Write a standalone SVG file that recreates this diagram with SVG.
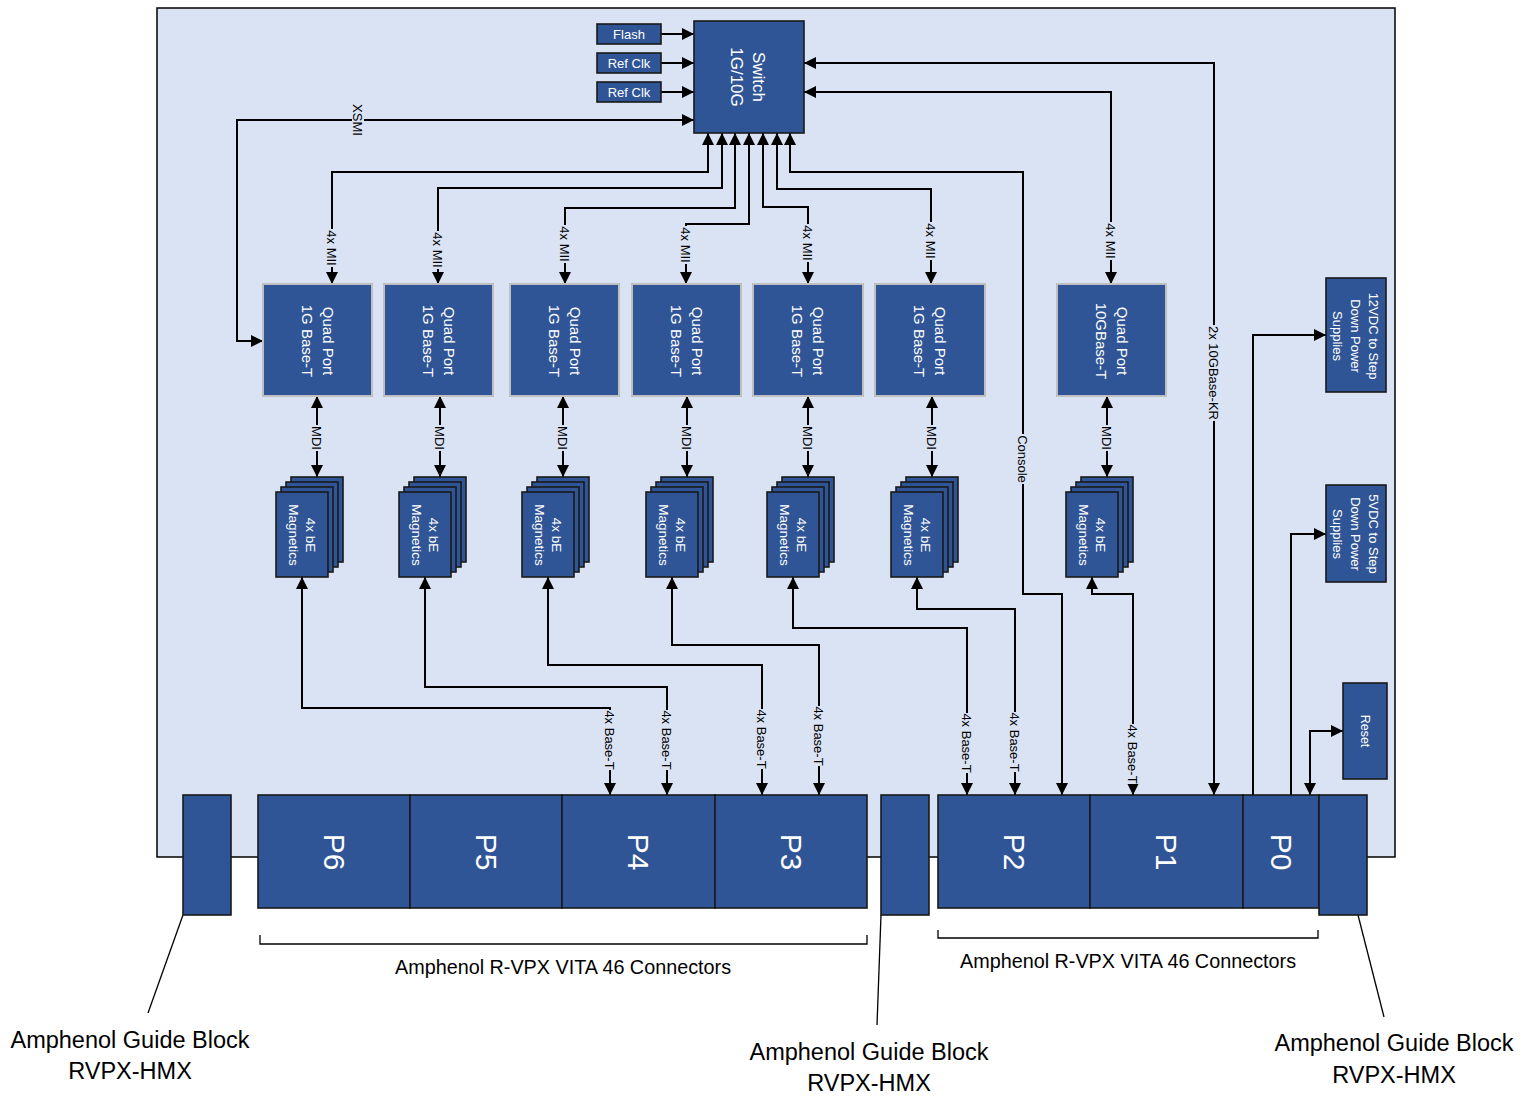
<svg xmlns="http://www.w3.org/2000/svg" width="1535" height="1096" viewBox="0 0 1535 1096">
<style>
text{font-family:"Liberation Sans",Arial,sans-serif}
.blk{fill:#2f5597;stroke:#1a1a1a;stroke-width:1.6}
.qp{fill:#2f5597;stroke:#bfbfbf;stroke-width:2}
.wt{fill:#fff}
.ln{fill:none;stroke:#000;stroke-width:2}
.ln2{fill:none;stroke:#000;stroke-width:1.3}
.lbl{font-size:13px;fill:#000}
.bg{fill:#dae3f3}
.p{font-size:30px;fill:#fff}
.big{font-size:23.5px;fill:#000}
.br{font-size:19.8px;fill:#000}
</style>
<defs>
<marker id="ah" viewBox="0 0 10 10" refX="10" refY="5" markerWidth="12" markerHeight="12" markerUnits="userSpaceOnUse" orient="auto-start-reverse"><path d="M0,0 L10,5 L0,10 z" fill="#000"/></marker>
</defs>

<g id="board"><rect x="157" y="8" width="1238" height="849" fill="#dae3f3" stroke="#000" stroke-width="1.5"/></g>

<g id="connectors">
<path class="ln" d="M661,34 H694" marker-end="url(#ah)"/>
<path class="ln" d="M661,63 H694" marker-end="url(#ah)"/>
<path class="ln" d="M661,92 H694" marker-end="url(#ah)"/>
<path class="ln" d="M263,341 H237 V120 H694" marker-start="url(#ah)" marker-end="url(#ah)"/>
<path class="ln" d="M708,133 V172 H332 V284" marker-start="url(#ah)" marker-end="url(#ah)"/>
<path class="ln" d="M722,133 V188 H438 V284" marker-start="url(#ah)" marker-end="url(#ah)"/>
<path class="ln" d="M735,133 V208 H565 V284" marker-start="url(#ah)" marker-end="url(#ah)"/>
<path class="ln" d="M749,133 V224 H686 V284" marker-start="url(#ah)" marker-end="url(#ah)"/>
<path class="ln" d="M763,133 V207 H808 V284" marker-start="url(#ah)" marker-end="url(#ah)"/>
<path class="ln" d="M777,133 V189 H931 V284" marker-start="url(#ah)" marker-end="url(#ah)"/>
<path class="ln" d="M790,133 V172 H1023 V594 H1062 V795" marker-start="url(#ah)" marker-end="url(#ah)"/>
<path class="ln" d="M804,63 H1214 V795" marker-start="url(#ah)" marker-end="url(#ah)"/>
<path class="ln" d="M804,92 H1111 V284" marker-start="url(#ah)" marker-end="url(#ah)"/>
<path class="ln" d="M317,396 V477" marker-start="url(#ah)" marker-end="url(#ah)"/>
<path class="ln" d="M440,396 V477" marker-start="url(#ah)" marker-end="url(#ah)"/>
<path class="ln" d="M563,396 V477" marker-start="url(#ah)" marker-end="url(#ah)"/>
<path class="ln" d="M687,396 V477" marker-start="url(#ah)" marker-end="url(#ah)"/>
<path class="ln" d="M808,396 V477" marker-start="url(#ah)" marker-end="url(#ah)"/>
<path class="ln" d="M932,396 V477" marker-start="url(#ah)" marker-end="url(#ah)"/>
<path class="ln" d="M1107,396 V477" marker-start="url(#ah)" marker-end="url(#ah)"/>
<path class="ln" d="M302,577 V708 H610 V795" marker-start="url(#ah)" marker-end="url(#ah)"/>
<path class="ln" d="M425,577 V687 H667 V795" marker-start="url(#ah)" marker-end="url(#ah)"/>
<path class="ln" d="M548,577 V665 H762 V795" marker-start="url(#ah)" marker-end="url(#ah)"/>
<path class="ln" d="M672,577 V645 H819 V795" marker-start="url(#ah)" marker-end="url(#ah)"/>
<path class="ln" d="M793,577 V628 H967 V795" marker-start="url(#ah)" marker-end="url(#ah)"/>
<path class="ln" d="M917,577 V609 H1015 V795" marker-start="url(#ah)" marker-end="url(#ah)"/>
<path class="ln" d="M1092,577 V594 H1133 V795" marker-start="url(#ah)" marker-end="url(#ah)"/>
<path class="ln" d="M1253,795 V335 H1326" marker-end="url(#ah)"/>
<path class="ln" d="M1291,795 V534 H1326" marker-end="url(#ah)"/>
<path class="ln" d="M1310,795 V731 H1343" marker-start="url(#ah)" marker-end="url(#ah)"/>
<path class="ln2" d="M183,915 L148,1013"/>
<path class="ln2" d="M881,915 L877,1025"/>
<path class="ln2" d="M1358,915 L1384,1017"/>
<path class="ln2" d="M260,935 V944 H867 V935"/>
<path class="ln2" d="M938,930 V938 H1318 V930"/>
</g>

<g id="connector-labels" class="lbl">
<g transform="translate(358,120) rotate(90)"><rect class="bg" x="-17" y="-6" width="34" height="12"/><text text-anchor="middle" y="4.7">XSMI</text></g>
<g transform="translate(332,248) rotate(90)"><rect class="bg" x="-19" y="-6" width="38" height="12"/><text text-anchor="middle" y="4.7">4x MII</text></g>
<g transform="translate(438,250) rotate(90)"><rect class="bg" x="-19" y="-6" width="38" height="12"/><text text-anchor="middle" y="4.7">4x MII</text></g>
<g transform="translate(565,244) rotate(90)"><rect class="bg" x="-19" y="-6" width="38" height="12"/><text text-anchor="middle" y="4.7">4x MII</text></g>
<g transform="translate(686,245) rotate(90)"><rect class="bg" x="-19" y="-6" width="38" height="12"/><text text-anchor="middle" y="4.7">4x MII</text></g>
<g transform="translate(808,243) rotate(90)"><rect class="bg" x="-19" y="-6" width="38" height="12"/><text text-anchor="middle" y="4.7">4x MII</text></g>
<g transform="translate(931,241) rotate(90)"><rect class="bg" x="-19" y="-6" width="38" height="12"/><text text-anchor="middle" y="4.7">4x MII</text></g>
<g transform="translate(1111,241) rotate(90)"><rect class="bg" x="-19" y="-6" width="38" height="12"/><text text-anchor="middle" y="4.7">4x MII</text></g>
<g transform="translate(317,438) rotate(90)"><rect class="bg" x="-13" y="-6" width="26" height="12"/><text text-anchor="middle" y="4.7">MDI</text></g>
<g transform="translate(440,438) rotate(90)"><rect class="bg" x="-13" y="-6" width="26" height="12"/><text text-anchor="middle" y="4.7">MDI</text></g>
<g transform="translate(563,438) rotate(90)"><rect class="bg" x="-13" y="-6" width="26" height="12"/><text text-anchor="middle" y="4.7">MDI</text></g>
<g transform="translate(687,438) rotate(90)"><rect class="bg" x="-13" y="-6" width="26" height="12"/><text text-anchor="middle" y="4.7">MDI</text></g>
<g transform="translate(808,438) rotate(90)"><rect class="bg" x="-13" y="-6" width="26" height="12"/><text text-anchor="middle" y="4.7">MDI</text></g>
<g transform="translate(932,438) rotate(90)"><rect class="bg" x="-13" y="-6" width="26" height="12"/><text text-anchor="middle" y="4.7">MDI</text></g>
<g transform="translate(1107,438) rotate(90)"><rect class="bg" x="-13" y="-6" width="26" height="12"/><text text-anchor="middle" y="4.7">MDI</text></g>
<g transform="translate(1023,459) rotate(90)"><rect class="bg" x="-25" y="-6" width="50" height="12"/><text text-anchor="middle" y="4.7">Console</text></g>
<g transform="translate(1214,373) rotate(90)"><rect class="bg" x="-48" y="-6" width="96" height="12"/><text text-anchor="middle" y="4.7">2x 10GBase-KR</text></g>
<g transform="translate(610,740) rotate(90)"><rect class="bg" x="-30" y="-6" width="60" height="12"/><text text-anchor="middle" y="4.7">4x Base-T</text></g>
<g transform="translate(667,740) rotate(90)"><rect class="bg" x="-30" y="-6" width="60" height="12"/><text text-anchor="middle" y="4.7">4x Base-T</text></g>
<g transform="translate(762,739) rotate(90)"><rect class="bg" x="-30" y="-6" width="60" height="12"/><text text-anchor="middle" y="4.7">4x Base-T</text></g>
<g transform="translate(819,736) rotate(90)"><rect class="bg" x="-30" y="-6" width="60" height="12"/><text text-anchor="middle" y="4.7">4x Base-T</text></g>
<g transform="translate(967,743) rotate(90)"><rect class="bg" x="-30" y="-6" width="60" height="12"/><text text-anchor="middle" y="4.7">4x Base-T</text></g>
<g transform="translate(1015,742) rotate(90)"><rect class="bg" x="-30" y="-6" width="60" height="12"/><text text-anchor="middle" y="4.7">4x Base-T</text></g>
<g transform="translate(1133,754) rotate(90)"><rect class="bg" x="-30" y="-6" width="60" height="12"/><text text-anchor="middle" y="4.7">4x Base-T</text></g>
</g>

<g id="switch"><rect class="blk" x="694" y="21" width="110" height="112"/>
<text class="wt" font-size="17" text-anchor="middle" transform="translate(749,77) rotate(90)"><tspan x="0" y="-3.5">Switch</tspan><tspan x="0" y="18">1G/10G</tspan></text></g>
<g id="flash"><rect class="blk" x="597" y="24" width="64" height="20"/><text class="wt" font-size="13" text-anchor="middle" x="629" y="38.5">Flash</text></g>
<g id="refclk1"><rect class="blk" x="597" y="53" width="64" height="20"/><text class="wt" font-size="13" text-anchor="middle" x="629" y="67.5">Ref Clk</text></g>
<g id="refclk2"><rect class="blk" x="597" y="82" width="64" height="20"/><text class="wt" font-size="13" text-anchor="middle" x="629" y="96.5">Ref Clk</text></g>

<g id="qp1"><rect class="qp" x="263" y="284" width="109" height="112"/><text class="wt" font-size="15" text-anchor="middle" transform="translate(317.5,341) rotate(90)"><tspan x="0" y="-5">Quad Port</tspan><tspan x="0" y="16">1G Base-T</tspan></text></g>
<g id="qp2"><rect class="qp" x="384" y="284" width="109" height="112"/><text class="wt" font-size="15" text-anchor="middle" transform="translate(438.5,341) rotate(90)"><tspan x="0" y="-5">Quad Port</tspan><tspan x="0" y="16">1G Base-T</tspan></text></g>
<g id="qp3"><rect class="qp" x="510" y="284" width="109" height="112"/><text class="wt" font-size="15" text-anchor="middle" transform="translate(564.5,341) rotate(90)"><tspan x="0" y="-5">Quad Port</tspan><tspan x="0" y="16">1G Base-T</tspan></text></g>
<g id="qp4"><rect class="qp" x="632" y="284" width="109" height="112"/><text class="wt" font-size="15" text-anchor="middle" transform="translate(686.5,341) rotate(90)"><tspan x="0" y="-5">Quad Port</tspan><tspan x="0" y="16">1G Base-T</tspan></text></g>
<g id="qp5"><rect class="qp" x="753" y="284" width="110" height="112"/><text class="wt" font-size="15" text-anchor="middle" transform="translate(808,341) rotate(90)"><tspan x="0" y="-5">Quad Port</tspan><tspan x="0" y="16">1G Base-T</tspan></text></g>
<g id="qp6"><rect class="qp" x="875" y="284" width="110" height="112"/><text class="wt" font-size="15" text-anchor="middle" transform="translate(930,341) rotate(90)"><tspan x="0" y="-5">Quad Port</tspan><tspan x="0" y="16">1G Base-T</tspan></text></g>
<g id="qp7"><rect class="qp" x="1057" y="284" width="109" height="112"/><text class="wt" font-size="15" text-anchor="middle" transform="translate(1111.5,341) rotate(90)"><tspan x="0" y="-5">Quad Port</tspan><tspan x="0" y="16">10GBase-T</tspan></text></g>

<g id="mag1"><rect class="blk" x="291" y="477" width="52" height="85"/><rect class="blk" x="286" y="482" width="52" height="85"/><rect class="blk" x="281" y="487" width="52" height="85"/><rect class="blk" x="276" y="492" width="52" height="85"/><text class="wt" font-size="13.5" text-anchor="middle" transform="translate(302,535) rotate(90)"><tspan x="0" y="-3.5">4x bE</tspan><tspan x="0" y="13.5">Magnetics</tspan></text></g>
<g id="mag2"><rect class="blk" x="414" y="477" width="52" height="85"/><rect class="blk" x="409" y="482" width="52" height="85"/><rect class="blk" x="404" y="487" width="52" height="85"/><rect class="blk" x="399" y="492" width="52" height="85"/><text class="wt" font-size="13.5" text-anchor="middle" transform="translate(425,535) rotate(90)"><tspan x="0" y="-3.5">4x bE</tspan><tspan x="0" y="13.5">Magnetics</tspan></text></g>
<g id="mag3"><rect class="blk" x="537" y="477" width="52" height="85"/><rect class="blk" x="532" y="482" width="52" height="85"/><rect class="blk" x="527" y="487" width="52" height="85"/><rect class="blk" x="522" y="492" width="52" height="85"/><text class="wt" font-size="13.5" text-anchor="middle" transform="translate(548,535) rotate(90)"><tspan x="0" y="-3.5">4x bE</tspan><tspan x="0" y="13.5">Magnetics</tspan></text></g>
<g id="mag4"><rect class="blk" x="661" y="477" width="52" height="85"/><rect class="blk" x="656" y="482" width="52" height="85"/><rect class="blk" x="651" y="487" width="52" height="85"/><rect class="blk" x="646" y="492" width="52" height="85"/><text class="wt" font-size="13.5" text-anchor="middle" transform="translate(672,535) rotate(90)"><tspan x="0" y="-3.5">4x bE</tspan><tspan x="0" y="13.5">Magnetics</tspan></text></g>
<g id="mag5"><rect class="blk" x="782" y="477" width="52" height="85"/><rect class="blk" x="777" y="482" width="52" height="85"/><rect class="blk" x="772" y="487" width="52" height="85"/><rect class="blk" x="767" y="492" width="52" height="85"/><text class="wt" font-size="13.5" text-anchor="middle" transform="translate(793,535) rotate(90)"><tspan x="0" y="-3.5">4x bE</tspan><tspan x="0" y="13.5">Magnetics</tspan></text></g>
<g id="mag6"><rect class="blk" x="906" y="477" width="52" height="85"/><rect class="blk" x="901" y="482" width="52" height="85"/><rect class="blk" x="896" y="487" width="52" height="85"/><rect class="blk" x="891" y="492" width="52" height="85"/><text class="wt" font-size="13.5" text-anchor="middle" transform="translate(917,535) rotate(90)"><tspan x="0" y="-3.5">4x bE</tspan><tspan x="0" y="13.5">Magnetics</tspan></text></g>
<g id="mag7"><rect class="blk" x="1081" y="477" width="52" height="85"/><rect class="blk" x="1076" y="482" width="52" height="85"/><rect class="blk" x="1071" y="487" width="52" height="85"/><rect class="blk" x="1066" y="492" width="52" height="85"/><text class="wt" font-size="13.5" text-anchor="middle" transform="translate(1092,535) rotate(90)"><tspan x="0" y="-3.5">4x bE</tspan><tspan x="0" y="13.5">Magnetics</tspan></text></g>

<g id="psu12"><rect class="blk" x="1326" y="278" width="60" height="114"/><text class="wt" font-size="13" text-anchor="middle" transform="translate(1356,336) rotate(90)"><tspan x="0" y="-13.3">12VDC to Step</tspan><tspan x="0" y="4.7">Down Power</tspan><tspan x="0" y="22.7">Supplies</tspan></text></g>
<g id="psu5"><rect class="blk" x="1326" y="485" width="60" height="97"/><text class="wt" font-size="13" text-anchor="middle" transform="translate(1356,534) rotate(90)"><tspan x="0" y="-13.3">5VDC to Step</tspan><tspan x="0" y="4.7">Down Power</tspan><tspan x="0" y="22.7">Supplies</tspan></text></g>
<g id="reset"><rect class="blk" x="1343" y="683" width="44" height="96"/><text class="wt" font-size="12.5" text-anchor="middle" transform="translate(1365,731) rotate(90)" y="4.5">Reset</text></g>

<g id="p6"><rect class="blk" x="258" y="795" width="152" height="113"/><text class="p" text-anchor="middle" transform="translate(334,852) rotate(90)" y="10.5">P6</text></g>
<g id="p5"><rect class="blk" x="410" y="795" width="152" height="113"/><text class="p" text-anchor="middle" transform="translate(486,852) rotate(90)" y="10.5">P5</text></g>
<g id="p4"><rect class="blk" x="562" y="795" width="153" height="113"/><text class="p" text-anchor="middle" transform="translate(638,852) rotate(90)" y="10.5">P4</text></g>
<g id="p3"><rect class="blk" x="715" y="795" width="152" height="113"/><text class="p" text-anchor="middle" transform="translate(791,852) rotate(90)" y="10.5">P3</text></g>
<g id="p2"><rect class="blk" x="938" y="795" width="152" height="113"/><text class="p" text-anchor="middle" transform="translate(1014,852) rotate(90)" y="10.5">P2</text></g>
<g id="p1"><rect class="blk" x="1090" y="795" width="153" height="113"/><text class="p" text-anchor="middle" transform="translate(1166,852) rotate(90)" y="10.5">P1</text></g>
<g id="p0"><rect class="blk" x="1243" y="795" width="76" height="113"/><text class="p" text-anchor="middle" transform="translate(1281,852) rotate(90)" y="10.5">P0</text></g>

<g id="guide-left"><rect class="blk" x="183" y="795" width="48" height="120"/></g>
<g id="guide-mid"><rect class="blk" x="881" y="795" width="48" height="120"/></g>
<g id="guide-right"><rect class="blk" x="1319" y="795" width="48" height="120"/></g>

<g id="labels">
<text class="br" text-anchor="middle" x="563" y="974">Amphenol R-VPX VITA 46 Connectors</text>
<text class="br" text-anchor="middle" x="1128" y="968">Amphenol R-VPX VITA 46 Connectors</text>
<text class="big" text-anchor="middle" x="130" y="1048">Amphenol Guide Block</text>
<text class="big" text-anchor="middle" x="130" y="1079">RVPX-HMX</text>
<text class="big" text-anchor="middle" x="869" y="1060">Amphenol Guide Block</text>
<text class="big" text-anchor="middle" x="869" y="1091">RVPX-HMX</text>
<text class="big" text-anchor="middle" x="1394" y="1051">Amphenol Guide Block</text>
<text class="big" text-anchor="middle" x="1394" y="1083">RVPX-HMX</text>
</g>
</svg>
